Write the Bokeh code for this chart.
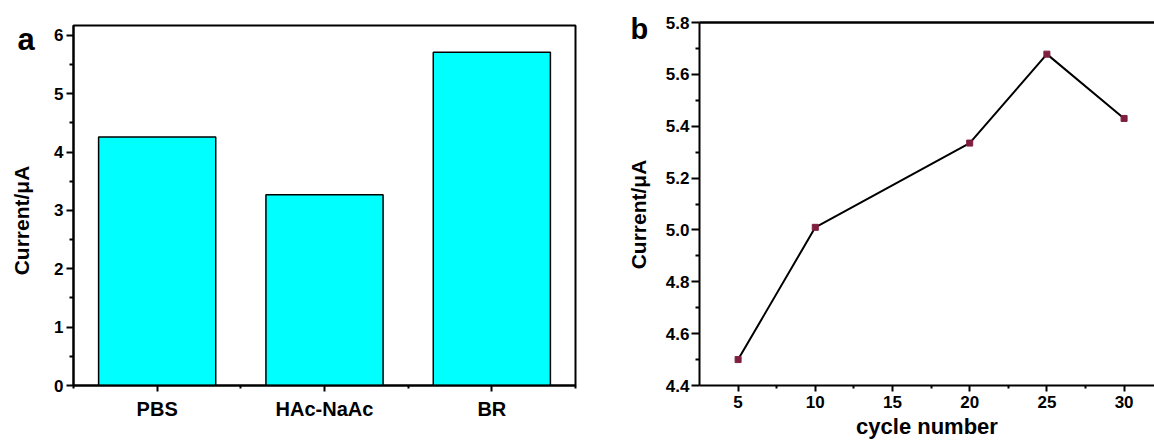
import math
from bokeh.plotting import figure
from bokeh.layouts import row
from bokeh.models import FixedTicker, LinearAxis, Range1d, ColumnDataSource, CustomJSTickFormatter
from bokeh.core.properties import value
from bokeh.embed import file_html
from bokeh.resources import INLINE

# ---- data ----
categories = ["PBS", "HAc-NaAc", "BR"]
current_a = [4.26, 3.27, 5.71]
cycles = [5, 10, 20, 25, 30]
current_b = [4.50, 5.01, 5.335, 5.678, 5.43]
yticks_a = [0, 1, 2, 3, 4, 5, 6]
yticks_b = [4.4, 4.6, 4.8, 5.0, 5.2, 5.4, 5.6, 5.8]
xticks_b = [5, 10, 15, 20, 25, 30]
ylabel = "Current/μA"

FONT = "Liberation Sans"
H = 446
BOTTOM = 61

def no_align(f):
    try:
        f.frame_align = False
    except Exception:
        pass

def style_axis(ax, label_size="17px"):
    ax.axis_line_width = 2
    ax.axis_line_color = "black"
    ax.major_tick_line_width = 2
    ax.minor_tick_line_width = 2
    ax.major_tick_line_color = "black"
    ax.minor_tick_line_color = "black"
    ax.major_tick_in = 0
    ax.minor_tick_in = 0
    ax.major_label_text_font = FONT
    ax.major_label_text_font_style = "bold"
    ax.major_label_text_font_size = label_size
    ax.major_label_text_color = "black"
    ax.axis_label_text_font = FONT
    ax.axis_label_text_font_style = "bold"
    ax.axis_label_text_font_size = "22px"
    ax.axis_label_text_color = "black"

def label_strip(x0, x1, letter, lx, ly, lsize, tx, ty):
    """Narrow strip (page-pixel coordinates) holding the panel letter and the y title."""
    f = figure(width=x1 - x0, height=H, output_backend="svg", toolbar_location=None,
               x_range=Range1d(x0, x1), y_range=Range1d(H, 0),
               x_axis_type=None, y_axis_type=None, min_border=0)
    no_align(f)
    f.grid.visible = False
    f.outline_line_color = None
    f.background_fill_color = "white"
    f.border_fill_color = "white"
    f.text(x=[lx], y=[ly], text=[letter], text_font=value(FONT), text_font_style="bold",
           text_font_size=value(lsize), text_color="black", text_baseline="alphabetic",
           text_align="left")
    f.text(x=[tx], y=[ty], text=[ylabel], angle=math.pi / 2, text_font=value(FONT),
           text_font_style="bold", text_font_size=value("21px"), text_color="black",
           text_align="center", text_baseline="middle")
    return f

# ---- panel a ----
la = label_strip(0, 45, "a", 17, 39, "31px", 21, 220)

xpos = list(range(1, len(categories) + 1))
p1 = figure(width=555, height=H, output_backend="svg", toolbar_location=None,
            x_range=Range1d(0.5, 3.5), y_range=Range1d(0, 6.17),
            min_border_left=28, min_border_right=25, min_border_top=25, min_border_bottom=BOTTOM)
no_align(p1)
p1.grid.visible = False
p1.background_fill_color = "white"
p1.border_fill_color = "white"
p1.outline_line_color = "black"
p1.outline_line_width = 2
src_a = ColumnDataSource(dict(x=xpos, top=current_a))
p1.vbar(x="x", top="top", bottom=0, width=0.7, source=src_a,
        fill_color="#00FFFF", line_color="black", line_width=1.5)
p1.xaxis.ticker = FixedTicker(ticks=xpos, minor_ticks=[0.5, 1.5, 2.5, 3.5])
p1.xaxis.major_label_overrides = {i: c for i, c in zip(xpos, categories)}
p1.yaxis.ticker = FixedTicker(ticks=yticks_a, minor_ticks=[v + 0.5 for v in yticks_a[:-1]])
for ax in [p1.xaxis[0], p1.yaxis[0]]:
    style_axis(ax)
p1.xaxis.major_label_text_font_size = "20px"
p1.xaxis.major_tick_out = 6
p1.xaxis.minor_tick_out = 3
p1.xaxis.major_label_standoff = 6
p1.yaxis.major_tick_out = 7
p1.yaxis.minor_tick_out = 4
p1.yaxis.major_label_standoff = 3

# ---- panel b ----
lb = label_strip(600, 658, "b", 630, 28, "29px", 638, 214)

p2 = figure(width=496, height=H, output_backend="svg", toolbar_location=None,
            x_range=Range1d(2.5, 31.97), y_range=Range1d(4.4, 5.8),
            min_border_left=41, min_border_right=0, min_border_top=22, min_border_bottom=BOTTOM)
no_align(p2)
p2.grid.visible = False
p2.background_fill_color = "white"
p2.border_fill_color = "white"
p2.outline_line_color = None
p2.line(cycles, current_b, line_color="black", line_width=2)
p2.scatter(cycles, current_b, marker="square", size=6, fill_color="#7f1f3f", line_color="#7f1f3f")
p2.xaxis.ticker = FixedTicker(ticks=xticks_b, minor_ticks=[7.5, 12.5, 17.5, 22.5, 27.5])
p2.yaxis.ticker = FixedTicker(ticks=yticks_b, minor_ticks=[round(v + 0.1, 2) for v in yticks_b[:-1]])
p2.yaxis.formatter = CustomJSTickFormatter(code="return tick.toFixed(1);")
for ax in [p2.xaxis[0], p2.yaxis[0]]:
    style_axis(ax)
p2.xaxis.major_tick_out = 6
p2.xaxis.minor_tick_out = 3
p2.xaxis.major_label_standoff = 4
p2.xaxis.axis_label = "cycle number"
p2.xaxis.axis_label_standoff = 3
p2.yaxis.major_tick_out = 8
p2.yaxis.minor_tick_out = 4
p2.yaxis.major_label_standoff = 2
top_ax = LinearAxis(axis_line_width=2.5, axis_line_color="black",
                    ticker=FixedTicker(ticks=[], minor_ticks=[]),
                    major_tick_line_color=None, minor_tick_line_color=None)
p2.add_layout(top_ax, "above")

layout = row(la, p1, lb, p2, spacing=0)
open("out.html", "w").write(file_html(layout, INLINE))
